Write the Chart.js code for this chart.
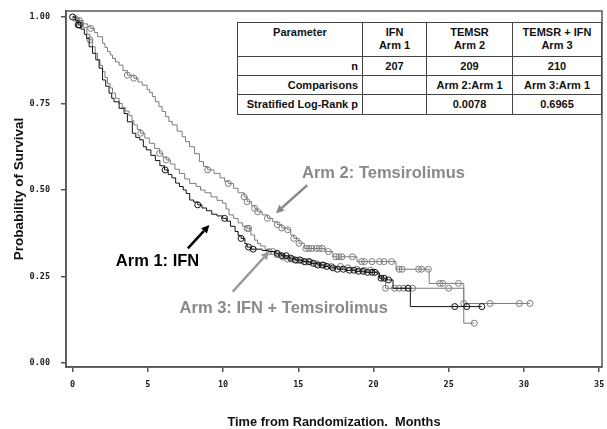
<!DOCTYPE html>
<html>
<head>
<meta charset="utf-8">
<script src="https://cdn.jsdelivr.net/npm/chart.js@4.4.1/dist/chart.umd.min.js"></script>
<style>
html,body{margin:0;padding:0;background:#fff;}
#wrap{position:relative;width:607px;height:429px;overflow:hidden;}
#c{display:block;}
#tbl{position:absolute;left:237px;top:22px;width:364px;border-collapse:collapse;table-layout:fixed;
  font:bold 11px "Liberation Sans",Arial,sans-serif;color:#111;background:#fff;}
#tbl td{box-sizing:border-box;border:1px solid #444;padding:0 4px;text-align:center;line-height:13px;white-space:nowrap;overflow:hidden;}
#tbl tr.hd td{height:34px;vertical-align:top;padding-top:3px;}
#tbl tr.r1 td{height:19px;}
#tbl tr.r2 td{height:19px;}
#tbl tr.r3 td{height:20px;}
#tbl td.lab{text-align:right;}
</style>
</head>
<body>
<div id="wrap">
<canvas id="c" width="607" height="429"></canvas>
<table id="tbl">
<colgroup><col style="width:125px"><col style="width:64px"><col style="width:86px"><col style="width:89px"></colgroup>
<tbody id="tb"></tbody>
</table>
</div>
<script>
// ---------- data ----------
const xTicks = [0, 5, 10, 15, 20, 25, 30, 35];
const yTicks = [0, 0.25, 0.5, 0.75, 1];

// Arm 1: IFN (black)
const arm1Time = [0,0.18,0.37,0.55,0.78,0.93,1.1,1.32,1.54,1.76,1.99,2.2,2.42,2.6,2.75,3.09,3.42,3.64,3.97,4.2,4.46,4.7,4.9,5.2,5.5,5.8,6.11,6.35,6.6,6.85,7.1,7.35,7.55,7.78,8.05,8.32,8.6,8.9,9.25,9.6,9.97,10.25,10.5,10.8,11.0,11.2,11.45,11.6,11.85,12.6,13.0,13.5,13.9,14.4,14.8,15.3,15.8,16.3,16.7,17.0,17.6,18.1,18.8,19.5,20.2,20.4,20.9,21.3,22.45,27.2];
const arm1Surv = [1,0.99,0.977,0.965,0.95,0.938,0.914,0.895,0.876,0.852,0.818,0.8,0.78,0.765,0.755,0.736,0.721,0.697,0.664,0.652,0.645,0.625,0.616,0.6,0.585,0.57,0.558,0.545,0.535,0.52,0.51,0.5,0.49,0.471,0.465,0.457,0.448,0.44,0.43,0.425,0.418,0.41,0.395,0.38,0.368,0.36,0.345,0.335,0.329,0.325,0.322,0.317,0.31,0.303,0.298,0.293,0.288,0.283,0.279,0.275,0.271,0.268,0.265,0.262,0.26,0.245,0.24,0.216,0.163,0.163];
const arm1Censor = [0,0.37,0.45,6.15,8.32,10.1,11.2,11.7,12.0,13.6,13.9,14.2,14.5,14.8,15.1,15.4,15.7,16.0,16.3,16.6,16.9,17.3,17.6,18.0,18.4,18.7,19.0,19.3,19.6,19.9,20.1,20.5,20.7,21.0,22.3,25.4,26.2,27.2];

// Arm 2: Temsirolimus (gray, upper)
const arm2Time = [0,0.25,0.44,0.7,1.0,1.2,1.45,1.66,1.99,2.15,2.32,2.5,2.65,2.85,3.09,3.35,3.64,4.07,4.35,4.63,4.95,5.12,5.3,5.5,5.74,5.95,6.18,6.4,6.62,6.95,7.28,7.5,7.77,8.1,8.43,8.7,8.98,9.4,9.8,10.1,10.35,10.7,11.0,11.4,11.6,11.9,12.1,12.3,12.6,12.95,13.3,13.6,13.9,14.3,14.5,14.7,15.05,15.4,16.8,17.3,18.9,21.5,23.7,26.0,30.4];
const arm2Surv = [1,0.995,0.99,0.98,0.972,0.967,0.955,0.943,0.924,0.912,0.9,0.89,0.88,0.87,0.861,0.845,0.832,0.823,0.812,0.803,0.79,0.782,0.77,0.755,0.741,0.727,0.712,0.698,0.688,0.67,0.654,0.64,0.625,0.605,0.582,0.568,0.558,0.548,0.535,0.525,0.519,0.505,0.492,0.48,0.466,0.455,0.447,0.437,0.428,0.418,0.408,0.4,0.39,0.385,0.37,0.36,0.346,0.331,0.322,0.307,0.293,0.271,0.23,0.172,0.172];
const arm2Censor = [0.44,1.2,3.64,4.07,8.98,10.35,11.4,11.6,12.1,12.3,12.95,13.6,13.9,14.3,14.7,15.05,15.5,15.7,15.9,16.2,16.4,16.6,17.0,17.5,17.7,17.9,18.6,19.2,19.4,19.9,20.4,20.7,21.2,21.7,21.9,23.0,23.2,23.65,24.4,24.6,25.65,26.0,27.75,29.7,30.4];

// Arm 3: IFN + Temsirolimus (gray, middle)
const arm3Time = [0,0.2,0.45,0.7,0.95,1.15,1.32,1.5,1.66,1.82,1.99,2.15,2.32,2.5,2.65,2.85,3.09,3.3,3.5,3.75,3.95,4.08,4.3,4.52,4.8,5.1,5.45,5.78,6.0,6.22,6.5,6.8,7.1,7.45,7.78,8.21,8.5,8.8,9.2,9.6,9.97,10.2,10.4,10.7,11.0,11.3,11.6,11.85,12.1,12.3,12.5,12.8,13.07,13.5,13.9,14.3,14.8,15.4,16.0,16.6,17.2,17.9,18.6,19.3,20.0,20.35,20.6,20.8,26.0,26.7];
const arm3Surv = [1,0.995,0.985,0.97,0.95,0.934,0.914,0.895,0.876,0.86,0.842,0.825,0.808,0.795,0.78,0.765,0.75,0.738,0.728,0.715,0.7,0.688,0.675,0.664,0.65,0.635,0.62,0.606,0.595,0.587,0.575,0.56,0.548,0.532,0.519,0.51,0.5,0.492,0.48,0.47,0.462,0.445,0.428,0.418,0.405,0.395,0.389,0.37,0.355,0.345,0.338,0.328,0.322,0.313,0.306,0.3,0.296,0.292,0.287,0.283,0.279,0.275,0.271,0.268,0.264,0.25,0.24,0.216,0.115,0.115];
const arm3Censor = [0.2,1.15,4.52,5.78,6.22,11.6,11.7,13.07,13.3,13.6,14.0,14.3,14.6,14.9,15.2,15.5,15.8,16.2,16.7,17.2,17.8,18.3,18.9,19.4,19.8,20.8,21.4,21.7,22.0,22.6,25.0,26.7];

const tableHeader = ["Parameter", "IFN\nArm 1", "TEMSR\nArm 2", "TEMSR + IFN\nArm 3"];
const tableRows = [
  ["n", "207", "209", "210"],
  ["Comparisons", "", "Arm 2:Arm 1", "Arm 3:Arm 1"],
  ["Stratified Log-Rank p", "", "0.0078", "0.6965"]
];

// ---------- table ----------
(function(){
  const tb = document.getElementById('tb');
  const hr = document.createElement('tr'); hr.className = 'hd';
  tableHeader.forEach(h => {
    const td = document.createElement('td');
    h.split('\n').forEach((line, i) => { if (i) td.appendChild(document.createElement('br')); td.appendChild(document.createTextNode(line)); });
    hr.appendChild(td);
  });
  tb.appendChild(hr);
  tableRows.forEach((r, ri) => {
    const tr = document.createElement('tr'); tr.className = 'r' + (ri + 1);
    r.forEach((v, i) => { const td = document.createElement('td'); if (i === 0) td.className = 'lab'; td.textContent = v; tr.appendChild(td); });
    tb.appendChild(tr);
  });
})();

// ---------- helpers ----------
function toPts(times, surv) { return times.map((t, i) => ({x: t, y: surv[i]})); }
function survAt(times, surv, t) { let v = surv[0]; for (let i = 0; i < times.length; i++) { if (times[i] <= t + 1e-9) v = surv[i]; } return v; }
function censorPts(c, times, surv) { return c.map(t => ({x: t, y: survAt(times, surv, t)})); }

const GRAY = '#7c7c7c';
const GRAY3 = '#8a8a8a';
const BLACK = '#111111';

const frameAndNotes = {
  id: 'frameAndNotes',
  afterDatasetsDraw(chart, args, opts) {
    const {ctx, chartArea: a, scales: {x, y}} = chart;
    ctx.save();
    ctx.strokeStyle = '#555';
    ctx.lineWidth = 1.5;
    ctx.strokeRect(a.left, a.top, a.right - a.left, a.bottom - a.top);
    opts.notes.forEach(n => {
      const fx = x.getPixelForValue(n.from[0]), fy = y.getPixelForValue(n.from[1]);
      const tx = x.getPixelForValue(n.to[0]), ty = y.getPixelForValue(n.to[1]);
      const ang = Math.atan2(ty - fy, tx - fx);
      const hl = 8, hw = 4;
      const bx = tx - hl * Math.cos(ang), by = ty - hl * Math.sin(ang);
      ctx.strokeStyle = n.arrowColor; ctx.fillStyle = n.arrowColor;
      ctx.lineWidth = 2.5; ctx.lineCap = 'butt';
      ctx.beginPath(); ctx.moveTo(fx, fy); ctx.lineTo(bx, by); ctx.stroke();
      ctx.beginPath();
      ctx.moveTo(tx, ty);
      ctx.lineTo(bx + hw * Math.sin(ang), by - hw * Math.cos(ang));
      ctx.lineTo(bx - hw * Math.sin(ang), by + hw * Math.cos(ang));
      ctx.closePath(); ctx.fill();
      ctx.font = 'bold 16.5px "Liberation Sans", Arial, sans-serif';
      ctx.fillStyle = n.color; ctx.textAlign = 'left'; ctx.textBaseline = 'middle';
      ctx.fillText(n.text, x.getPixelForValue(n.at[0]), y.getPixelForValue(n.at[1]));
    });
    ctx.restore();
  }
};

const tickFont = {family: '"DejaVu Sans Mono", monospace', size: 8.5, weight: 'bold'};

new Chart(document.getElementById('c'), {
  type: 'line',
  data: {
    datasets: [
      {label: 'Arm 1 censored', data: censorPts(arm1Censor, arm1Time, arm1Surv), showLine: false, pointRadius: 3, pointStyle: 'circle', borderColor: BLACK, backgroundColor: 'rgba(0,0,0,0)', borderWidth: 1},
      {label: 'Arm 1: IFN', data: toPts(arm1Time, arm1Surv), stepped: 'before', borderColor: BLACK, borderWidth: 1, pointRadius: 0, fill: false},
      {label: 'Arm 3 censored', data: censorPts(arm3Censor, arm3Time, arm3Surv), showLine: false, pointRadius: 3, pointStyle: 'circle', borderColor: GRAY, backgroundColor: 'rgba(0,0,0,0)', borderWidth: 1},
      {label: 'Arm 3: IFN + Temsirolimus', data: toPts(arm3Time, arm3Surv), stepped: 'before', borderColor: GRAY, borderWidth: 1, pointRadius: 0, fill: false},
      {label: 'Arm 2 censored', data: censorPts(arm2Censor, arm2Time, arm2Surv), showLine: false, pointRadius: 3, pointStyle: 'circle', borderColor: GRAY, backgroundColor: 'rgba(0,0,0,0)', borderWidth: 1},
      {label: 'Arm 2: Temsirolimus', data: toPts(arm2Time, arm2Surv), stepped: 'before', borderColor: GRAY, borderWidth: 1, pointRadius: 0, fill: false}
    ]
  },
  options: {
    responsive: false,
    animation: false,
    events: [],
    layout: {padding: {left: 0, top: 11, right: 3, bottom: 0}},
    plugins: {
      legend: {display: false},
      tooltip: {enabled: false},
      frameAndNotes: {
        notes: [
          {text: 'Arm 2: Temsirolimus', color: GRAY3, arrowColor: '#888', at: [15.25, 0.549], from: [15.6, 0.514], to: [13.51, 0.433]},
          {text: 'Arm 1: IFN', color: '#000', arrowColor: '#000', at: [2.87, 0.293], from: [7.66, 0.331], to: [9.09, 0.399]},
          {text: 'Arm 3: IFN + Temsirolimus', color: GRAY3, arrowColor: '#9a9a9a', at: [7.11, 0.158], from: [10.64, 0.206], to: [13.07, 0.322]}
        ]
      }
    },
    scales: {
      x: {
        type: 'linear', min: -0.44, max: 35.19,
        afterBuildTicks: s => { s.ticks = xTicks.map(v => ({value: v})); },
        afterFit: s => { s.height = 62; s.paddingLeft = 0; s.paddingRight = 0; },
        ticks: {font: tickFont, color: '#222', padding: 8, maxRotation: 0, autoSkip: false, callback: v => String(v)},
        grid: {display: true, drawOnChartArea: false, drawTicks: true, tickLength: 5, color: '#555', lineWidth: 1.5},
        border: {display: true, color: '#555', width: 1.5},
        title: {display: true, text: 'Time from Randomization.  Months', color: '#111',
                font: {family: '"Liberation Sans", Arial, sans-serif', size: 12.8, weight: 'bold', lineHeight: 1}, padding: {top: 0, bottom: 0}}
      },
      y: {
        type: 'linear', min: -0.0116, max: 1.0173,
        afterBuildTicks: s => { s.ticks = yTicks.map(v => ({value: v})); },
        afterFit: s => { s.width = 66; s.paddingTop = 0; s.paddingBottom = 0; },
        ticks: {font: tickFont, color: '#222', padding: 11, callback: v => Number(v).toFixed(2)},
        grid: {display: true, drawOnChartArea: false, drawTicks: true, tickLength: 5, color: '#555', lineWidth: 1.5},
        border: {display: true, color: '#555', width: 1.5},
        title: {display: true, text: 'Probability of Survival', color: '#111',
                font: {family: '"Liberation Sans", Arial, sans-serif', size: 13.5, weight: 'bold', lineHeight: 1.2}, padding: {top: 11, bottom: 0}}
      }
    }
  },
  plugins: [frameAndNotes]
});
</script>
</body>
</html>
